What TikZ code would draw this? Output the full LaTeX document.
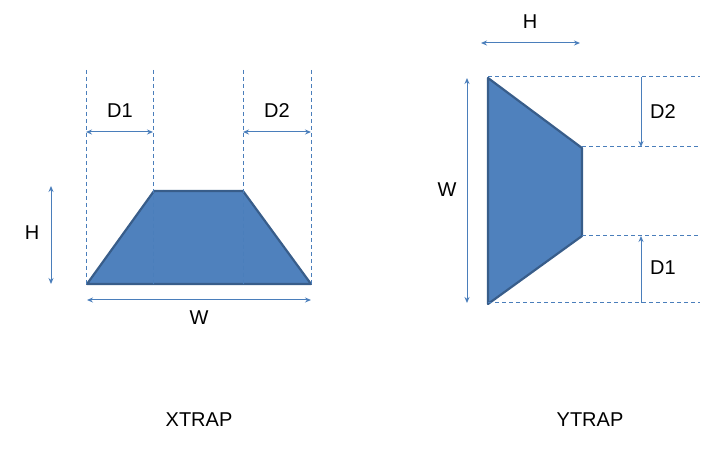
\documentclass[tikz,border=0pt]{standalone}
\usepackage{fontspec}
\setmainfont{Liberation Sans}
\usetikzlibrary{arrows.meta}
\definecolor{tfill}{HTML}{4F81BD}
\definecolor{tline}{HTML}{385D8A}
\definecolor{dim}{HTML}{4A7EBB}
\begin{document}
\begin{tikzpicture}[x=1pt,y=-1pt,
  trap/.style={fill=tfill,draw=tline,line width=2.2pt,line join=round},
  guide/.style={draw=dim,dashed,line width=1pt,dash pattern=on 4pt off 3pt},
  dimline/.style={draw=dim,line width=1pt,{Stealth[length=6pt,width=5pt]}-{Stealth[length=6pt,width=5pt]}},
  dimone/.style={draw=dim,line width=1pt,-{Stealth[length=6pt,width=5pt]}},
  lbl/.style={font=\fontsize{20}{24}\selectfont,inner sep=0pt}]
\useasboundingbox (0,0) rectangle (724,449);
% XTRAP
\coordinate (a1) at (87,284); \coordinate (a2) at (154,191);
\coordinate (a3) at (243,191); \coordinate (a4) at (311,284);
\draw[trap] (a1)--(a2)--(a3)--(a4)--cycle;
\foreach \x in {86,153,243,311} \draw[guide] (\x,70)--(\x,284);
\coordinate (d1a) at (86,132); \coordinate (d1b) at (153,132);
\coordinate (d2a) at (243,132); \coordinate (d2b) at (311,132);
\draw[dimline] (d1a)--(d1b); \draw[dimline] (d2a)--(d2b);
\coordinate (ha) at (51,186); \coordinate (hb) at (51,284);
\draw[dimline] (ha)--(hb);
\coordinate (wa) at (87,300); \coordinate (wb) at (311,300);
\draw[dimline] (wa)--(wb);
\node[lbl] (l1) at (120,111) {D1};
\node[lbl] (l2) at (277,111) {D2};
\node[lbl] (l3) at (32,233) {H};
\node[lbl] (l4) at (199,318) {W};
\node[lbl] (l5) at (199,420) {XTRAP};
% YTRAP
\coordinate (b1) at (488,78); \coordinate (b2) at (582,148);
\coordinate (b3) at (582,236); \coordinate (b4) at (488,304);
\draw[trap] (b1)--(b2)--(b3)--(b4)--cycle;
\draw[guide] (488,77)--(700,77);
\draw[guide] (582,147)--(700,147);
\draw[guide] (582,236)--(700,236);
\draw[guide] (488,303)--(700,303);
\coordinate (e1) at (641,77); \coordinate (e2) at (641,147);
\draw[dimone] (e1)--(e2);
\coordinate (f1) at (641,303); \coordinate (f2) at (641,236);
\draw[dimone] (f1)--(f2);
\coordinate (g1) at (467,78); \coordinate (g2) at (467,303);
\draw[dimline] (g1)--(g2);
\coordinate (k1) at (481,43); \coordinate (k2) at (580,43);
\draw[dimline] (k1)--(k2);
\node[lbl] (m1) at (530,22) {H};
\node[lbl] (m2) at (447,190) {W};
\node[lbl] (m3) at (663,112) {D2};
\node[lbl] (m4) at (663,268) {D1};
\node[lbl] (m5) at (590,420) {YTRAP};
\end{tikzpicture}
\end{document}
